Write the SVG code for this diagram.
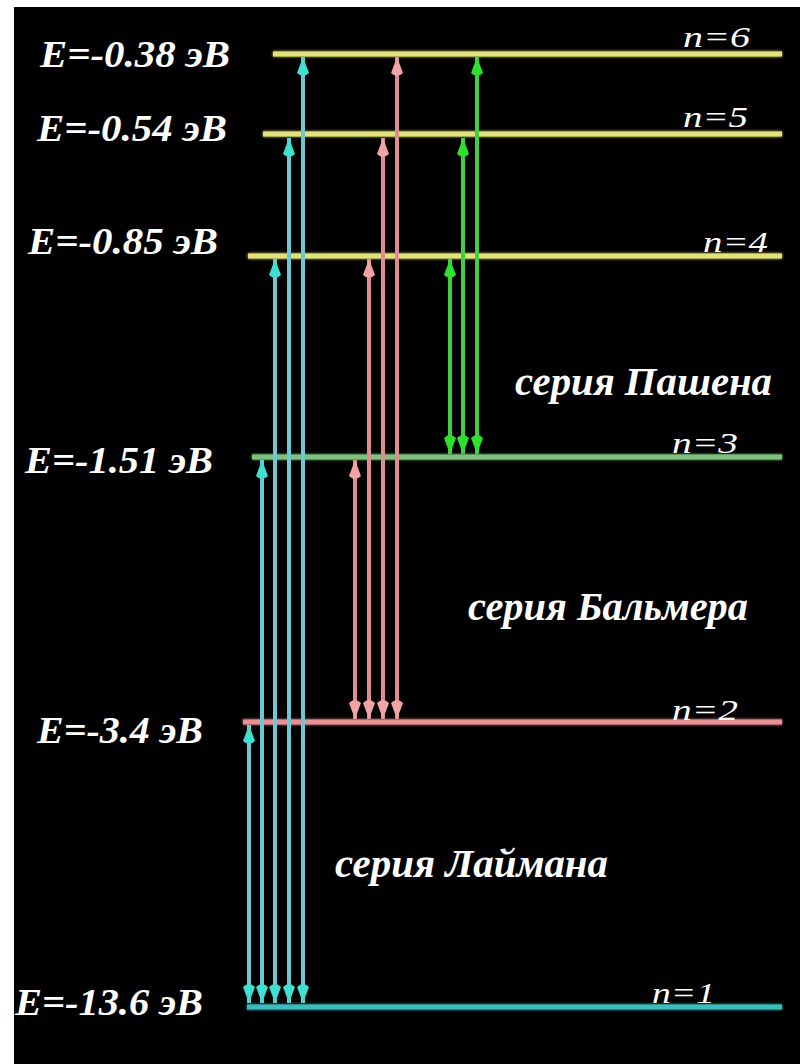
<svg xmlns="http://www.w3.org/2000/svg" width="800" height="1064" viewBox="0 0 800 1064">
<defs>
<style>
.lbl{font-family:'Liberation Serif','Times New Roman',serif;font-weight:700;font-style:italic;fill:#ffffff;font-size:38px}
.nl{font-family:'Liberation Serif','Times New Roman',serif;font-style:italic;fill:#ffffff;font-size:30px}
.ser{font-family:'Liberation Serif','Times New Roman',serif;font-weight:700;font-style:italic;fill:#ffffff;font-size:39px}
.lev{stroke-width:5;stroke-linecap:butt;fill:none}
.ly{stroke:#6cc8d2;stroke-width:4;marker-start:url(#ahC);marker-end:url(#ahC)}
.ba{stroke:#e08c92;stroke-width:4;marker-start:url(#ahP);marker-end:url(#ahP)}
.pa{stroke:#3fcf3f;stroke-width:4;marker-start:url(#ahG);marker-end:url(#ahG)}
</style>
<filter id="glow" filterUnits="userSpaceOnUse" x="0" y="0" width="800" height="1064">
<feGaussianBlur stdDeviation="1.5" result="b"/>
<feMerge><feMergeNode in="b"/><feMergeNode in="SourceGraphic"/></feMerge>
</filter>
<marker id="ahC" markerUnits="userSpaceOnUse" viewBox="-22 -7 24 14" markerWidth="24" markerHeight="14" refX="0" refY="0" orient="auto-start-reverse">
<path d="M0,0 L-16,-6 Q-22,0 -16,6 Z" fill="#3ee0d2"/>
</marker>
<marker id="ahP" markerUnits="userSpaceOnUse" viewBox="-22 -7 24 14" markerWidth="24" markerHeight="14" refX="0" refY="0" orient="auto-start-reverse">
<path d="M0,0 L-16,-6 Q-22,0 -16,6 Z" fill="#f2a4a4"/>
</marker>
<marker id="ahG" markerUnits="userSpaceOnUse" viewBox="-22 -7 24 14" markerWidth="24" markerHeight="14" refX="0" refY="0" orient="auto-start-reverse">
<path d="M0,0 L-16,-6 Q-22,0 -16,6 Z" fill="#2ee02e"/>
</marker>
</defs>
<rect x="0" y="0" width="800" height="1064" fill="#ffffff"/>
<rect x="14" y="7" width="786" height="1057" fill="#000000"/>

<g id="level-n6">
<line class="lev" x1="273" y1="54" x2="782" y2="54" stroke="#e2e27a" filter="url(#glow)"/>
<text class="lbl" x="40" y="67" textLength="190" lengthAdjust="spacingAndGlyphs">E=-0.38 эВ</text>
<text class="nl" x="683" y="47" textLength="67" lengthAdjust="spacingAndGlyphs">n=6</text>
</g>
<g id="level-n5">
<line class="lev" x1="263" y1="134" x2="782" y2="134" stroke="#e2e27a" filter="url(#glow)"/>
<text class="lbl" x="37" y="141" textLength="190" lengthAdjust="spacingAndGlyphs">E=-0.54 эВ</text>
<text class="nl" x="683" y="127" textLength="65" lengthAdjust="spacingAndGlyphs">n=5</text>
</g>
<g id="level-n4">
<line class="lev" x1="248" y1="256" x2="782" y2="256" stroke="#e2e27a" filter="url(#glow)"/>
<text class="lbl" x="28" y="254" textLength="190" lengthAdjust="spacingAndGlyphs">E=-0.85 эВ</text>
<text class="nl" x="703" y="252" textLength="65" lengthAdjust="spacingAndGlyphs">n=4</text>
</g>
<g id="level-n3">
<line class="lev" x1="252" y1="457" x2="782" y2="457" stroke="#7ec27e" filter="url(#glow)"/>
<text class="lbl" x="25" y="473" textLength="188" lengthAdjust="spacingAndGlyphs">E=-1.51 эВ</text>
<text class="nl" x="672" y="453" textLength="66" lengthAdjust="spacingAndGlyphs">n=3</text>
</g>
<g id="level-n2">
<line class="lev" x1="243" y1="722" x2="782" y2="722" stroke="#e89094" filter="url(#glow)"/>
<text class="lbl" x="37" y="743" textLength="166" lengthAdjust="spacingAndGlyphs">E=-3.4 эВ</text>
<text class="nl" x="672" y="720" textLength="66" lengthAdjust="spacingAndGlyphs">n=2</text>
</g>
<g id="level-n1">
<line class="lev" x1="247" y1="1007" x2="782" y2="1007" stroke="#3cbcbc" filter="url(#glow)"/>
<text class="lbl" x="15" y="1015" textLength="188" lengthAdjust="spacingAndGlyphs">E=-13.6 эВ</text>
<text class="nl" x="652" y="1003" textLength="63" lengthAdjust="spacingAndGlyphs">n=1</text>
</g>

<g id="connectors">
<g id="lyman">
<line class="ly" x1="249" y1="1003" x2="249" y2="725"/>
<line class="ly" x1="262" y1="1003" x2="262" y2="460"/>
<line class="ly" x1="275" y1="1003" x2="275" y2="259"/>
<line class="ly" x1="289" y1="1003" x2="289" y2="138"/>
<line class="ly" x1="303" y1="1003" x2="303" y2="57"/>
</g>
<g id="balmer">
<line class="ba" x1="355" y1="719" x2="355" y2="460"/>
<line class="ba" x1="369" y1="719" x2="369" y2="259"/>
<line class="ba" x1="383" y1="719" x2="383" y2="138"/>
<line class="ba" x1="397" y1="719" x2="397" y2="57"/>
</g>
<g id="paschen">
<line class="pa" x1="450" y1="454" x2="450" y2="259"/>
<line class="pa" x1="463" y1="454" x2="463" y2="138"/>
<line class="pa" x1="477" y1="454" x2="477" y2="57"/>
</g>
</g>

<g id="series-labels">
<text class="ser" x="515" y="395" textLength="257" lengthAdjust="spacingAndGlyphs">серия Пашена</text>
<text class="ser" x="468" y="620" textLength="280" lengthAdjust="spacingAndGlyphs">серия Бальмера</text>
<text class="ser" x="335" y="877" textLength="273" lengthAdjust="spacingAndGlyphs">серия Лаймана</text>
</g>
</svg>
